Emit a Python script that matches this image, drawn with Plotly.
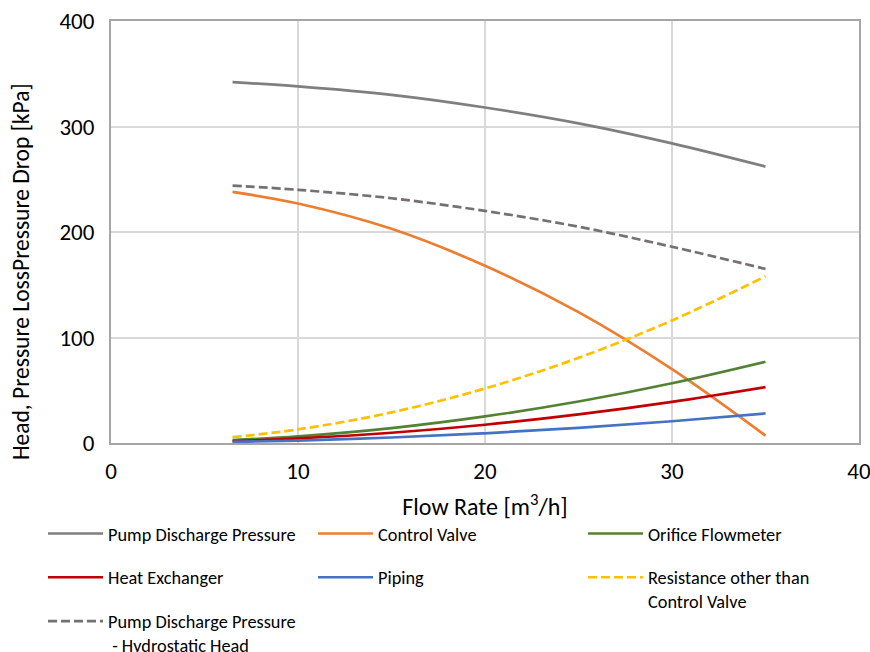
import plotly.graph_objects as go

flow = [6.5, 10, 15, 20, 25, 30, 35]
pump = [342, 338, 330, 318, 303, 284, 262]
control_valve = [238, 227, 203, 168, 124, 70, 7]
orifice = [2.7, 6.3, 14.1, 25.2, 39.3, 56.6, 77]
heat_exch = [1.8, 4.3, 9.7, 17.3, 27.1, 39, 53]
piping = [1.0, 2.3, 5.2, 9.2, 14.3, 20.6, 28]
resistance = [5.5, 12.9, 29, 51.7, 80.7, 116.2, 158]
pump_minus_hydro = [244, 240, 232, 220, 205, 186, 165]

y_title = "Head, Pressure LossPressure Drop [kPa]"
x_title = "Flow Rate [m<sup>3</sup>/h]"

series = [
    ("Pump Discharge Pressure", pump, "#7F7F7F", "solid", "legend"),
    ("Control Valve", control_valve, "#ED7D31", "solid", "legend2"),
    ("Orifice Flowmeter", orifice, "#548235", "solid", "legend3"),
    ("Heat Exchanger", heat_exch, "#C00000", "solid", "legend"),
    ("Piping", piping, "#4472C4", "solid", "legend2"),
    ("Resistance other than<br>Control Valve", resistance, "#FFC000", "9px,4px", "legend3"),
    ("Pump Discharge Pressure<br> - Hydrostatic Head", pump_minus_hydro, "#767171", "9px,4px", "legend"),
]

fig = go.Figure()
for i, (name, ys, color, dash, leg) in enumerate(series):
    fig.add_trace(go.Scatter(
        x=flow, y=ys, name=name, mode="lines", legend=leg, legendgroup=f"g{i}",
        line=dict(color=color, width=2.7, dash=dash, shape="spline"),
    ))

fnt = "Carlito, Lato, Liberation Sans"
leg_common = dict(
    orientation="v", xref="container", yref="container", xanchor="left", yanchor="top",
    y=0.210, itemwidth=55, valign="top", tracegroupgap=17,
    font=dict(size=18.3, family=fnt, color="#000000"), bgcolor="rgba(0,0,0,0)",
)
fig.update_layout(
    width=870, height=652,
    margin=dict(l=111, r=11, t=21, b=209, autoexpand=False),
    plot_bgcolor="white", paper_bgcolor="white",
    font=dict(family=fnt, color="#000000"),
    showlegend=True,
    legend=dict(x=43 / 870, **leg_common),
    legend2=dict(x=313 / 870, **leg_common),
    legend3=dict(x=583 / 870, **leg_common),
    xaxis=dict(
        range=[0, 40], dtick=10, tick0=0,
        showgrid=True, gridcolor="#D9D9D9", gridwidth=1.5,
        showline=True, linecolor="#A6A6A6", linewidth=2, mirror=True,
        zeroline=False, ticks="", tickfont=dict(size=23, family=fnt),
        ticklabelstandoff=6, ticklabeloverflow="allow", automargin=False,
        title=dict(text=x_title, font=dict(size=24, family=fnt)),
    ),
    yaxis=dict(
        range=[0, 400], dtick=100, tick0=0,
        showgrid=True, gridcolor="#D9D9D9", gridwidth=1.5,
        showline=True, linecolor="#A6A6A6", linewidth=2, mirror=True,
        zeroline=False, ticks="", tickfont=dict(size=23, family=fnt),
        ticklabelstandoff=10, ticklabeloverflow="allow", automargin=False,
    ),
    annotations=[dict(
        text=y_title, textangle=-90, showarrow=False,
        xref="paper", yref="paper", x=-0.1203, y=0.405,
        xanchor="center", yanchor="middle",
        font=dict(size=23.5, family=fnt, color="#000000"),
    )],
)

fig.write_html("out.html")
